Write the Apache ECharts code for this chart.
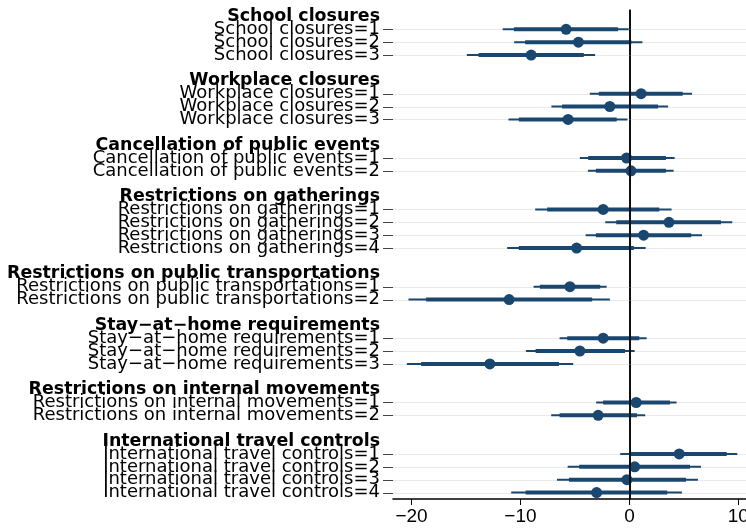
<!DOCTYPE html>
<html>
<head>
<meta charset="utf-8">
<script src="https://cdn.jsdelivr.net/npm/echarts@6/dist/echarts.min.js"></script>
<style>html,body{margin:0;padding:0;background:#fff}#c{width:746px;height:529px}</style>
</head>
<body>
<div id="c"></div>
<script>
// ---- data ----
const groupNames = [
  'School closures',
  'Workplace closures',
  'Cancellation of public events',
  'Restrictions on gatherings',
  'Restrictions on public transportations',
  'Stay\u2212at\u2212home requirements',
  'Restrictions on internal movements',
  'International travel controls'
];
const groupLevels = [3, 3, 2, 4, 2, 3, 2, 4];

// point estimates (25 items, in order)
const estimate = [
  -5.81, -4.68, -9.02,
  1.07, -1.80, -5.63,
  -0.26, 0.14,
  -2.41, 3.63, 1.30, -4.85,
  -5.46, -11.04,
  -2.41, -4.55, -12.81,
  0.62, -2.87,
  4.57, 0.48, -0.23, -3.01
];
// inner (thick) interval
const innerLow = [
  -10.60, -9.57, -13.85,
  -2.81, -6.18, -10.15,
  -3.78, -3.08,
  -7.55, -1.21, -3.08, -10.15,
  -8.22, -18.66,
  -5.71, -8.61, -19.12,
  -2.41, -6.41,
  0.00, -4.61, -5.55, -9.53
];
const innerHigh = [
  -1.04, 0.18, -4.19,
  4.89, 2.63, -1.17,
  3.35, 3.35,
  2.74, 8.40, 5.67, 0.41,
  -2.68, -3.42,
  0.90, -0.41, -6.47,
  3.72, 0.69,
  8.93, 5.56, 5.19, 3.47
];
// outer (thin) interval
const outerLow = [
  -11.63, -10.58, -14.92,
  -3.64, -7.16, -11.10,
  -4.55, -3.81,
  -8.65, -2.22, -4.02, -11.22,
  -8.80, -20.28,
  -6.41, -9.50, -20.43,
  -3.05, -7.18,
  -0.84, -5.67, -6.65, -10.85
];
const outerHigh = [
  -0.06, 1.19, -3.15,
  5.75, 3.55, -0.18,
  4.15, 4.06,
  3.87, 9.44, 6.66, 1.49,
  -2.09, -1.79,
  1.58, 0.48, -5.16,
  4.33, 1.45,
  9.90, 6.57, 6.29, 4.82
];
const xTicks = [-20, -10, 0, 10];

// ---- build category rows ----
const categories = [];
const rowType = [];      // 'h' header, 'i' item, 's' spacer
const itemRow = [];      // category index of each item
let spacer = 0;
groupNames.forEach((g, gi) => {
  categories.push(g); rowType.push('h');
  for (let k = 1; k <= groupLevels[gi]; k++) {
    itemRow.push(categories.length);
    categories.push(g + '=' + k); rowType.push('i');
  }
  if (gi < groupNames.length - 1) {
    spacer++;
    categories.push(' '.repeat(spacer)); rowType.push('s');
  }
});

const ciData = itemRow.map((r, i) => [r, outerLow[i], outerHigh[i], innerLow[i], innerHigh[i]]);
const ptData = itemRow.map((r, i) => [estimate[i], r]);
const gridData = itemRow.map(r => [r]);

const NAVY = '#1a476f';

const chart = echarts.init(document.getElementById('c'), null, {renderer: 'canvas'});
chart.setOption({
  animation: false,
  backgroundColor: '#ffffff',
  grid: {left: 393, right: 0, top: 10, bottom: 30, containLabel: false, outerBoundsMode: 'none'},
  xAxis: {
    type: 'value',
    min: -21.7,
    max: 10.7,
    splitLine: {show: false},
    axisLine: {show: true, onZero: false, lineStyle: {color: '#000', width: 1.5}},
    axisTick: {show: true, customValues: xTicks, length: 6, lineStyle: {color: '#000', width: 1}},
    axisLabel: {
      customValues: xTicks,
      fontFamily: 'Liberation Sans, Arial, sans-serif',
      fontSize: 19,
      color: '#000',
      margin: 8,
      hideOverlap: false,
      formatter: v => String(v).replace('-', '\u2212')
    }
  },
  yAxis: {
    type: 'category',
    inverse: true,
    data: categories,
    boundaryGap: true,
    axisLine: {show: true, lineStyle: {color: '#000', width: 1.5}},
    axisTick: {show: false},
    splitLine: {show: false},
    axisLabel: {
      interval: 0,
      margin: 13,
      color: '#000',
      fontFamily: 'DejaVu Sans, sans-serif',
      fontSize: 18,
      formatter: (v, idx) => {
        const t = rowType[idx];
        if (t === 'h') return '{h|' + v + '}';
        if (t === 'i') return '{i|' + v + '}';
        return '';
      },
      rich: {
        h: {fontFamily: 'DejaVu Sans, sans-serif', fontSize: 17.4, fontWeight: 'bold', color: '#000'},
        i: {fontFamily: 'DejaVu Sans, sans-serif', fontSize: 18, color: '#000'}
      }
    }
  },
  series: [
    {
      type: 'custom',
      name: 'grid',
      silent: true,
      clip: false,
      z: 1,
      data: gridData,
      encode: {y: 0},
      renderItem: (params, api) => {
        const cs = params.coordSys;
        const y = Math.round(api.coord([0, api.value(0)])[1]) + 0.5;
        return {
          type: 'group',
          children: [
            {type: 'line', shape: {x1: cs.x, y1: y, x2: cs.x + cs.width, y2: y},
             style: {stroke: '#eaeaea', lineWidth: 1}},
            {type: 'line', shape: {x1: cs.x - 10, y1: y, x2: cs.x, y2: y},
             style: {stroke: '#444', lineWidth: 1}}
          ]
        };
      },
      markLine: {
        silent: true,
        symbol: 'none',
        label: {show: false},
        lineStyle: {color: '#000', width: 1.5, type: 'solid'},
        data: [{xAxis: 0}]
      }
    },
    {
      type: 'custom',
      name: 'ci',
      z: 3,
      data: ciData,
      encode: {y: 0, x: [1, 2, 3, 4]},
      renderItem: (params, api) => {
        const r = api.value(0);
        const a = api.coord([api.value(1), r]);
        const b = api.coord([api.value(2), r]);
        const c = api.coord([api.value(3), r]);
        const d = api.coord([api.value(4), r]);
        return {
          type: 'group',
          children: [
            {type: 'line', shape: {x1: a[0], y1: a[1], x2: b[0], y2: b[1]}, style: {stroke: NAVY, lineWidth: 2}},
            {type: 'line', shape: {x1: c[0], y1: c[1], x2: d[0], y2: d[1]}, style: {stroke: NAVY, lineWidth: 4}}
          ]
        };
      }
    },
    {
      type: 'scatter',
      name: 'est',
      z: 4,
      symbol: 'circle',
      symbolSize: 11,
      itemStyle: {color: NAVY, opacity: 1},
      data: ptData
    }
  ]
});
</script>
</body>
</html>
